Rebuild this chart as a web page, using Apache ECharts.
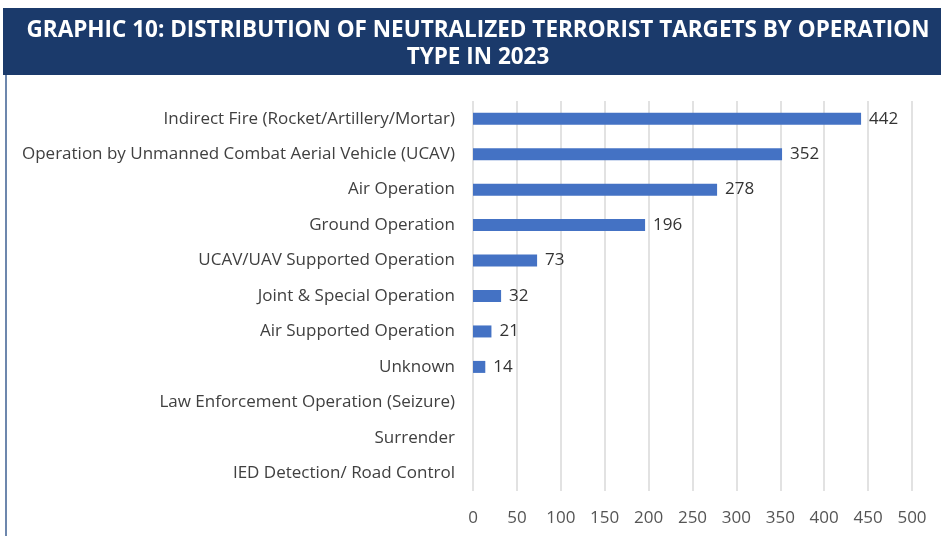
<!DOCTYPE html>
<html>
<head>
<meta charset="utf-8">
<script src="https://cdn.jsdelivr.net/npm/echarts@6/dist/echarts.min.js"></script>
<style>
  html, body { margin: 0; padding: 0; background: #fff; }
  #chart { width: 941px; height: 536px; }
</style>
</head>
<body>
<div id="chart"></div>
<script>
// operation types, top to bottom as in the source graphic
var categories = [
  'Indirect Fire (Rocket/Artillery/Mortar)',
  'Operation by Unmanned Combat Aerial Vehicle (UCAV)',
  'Air Operation',
  'Ground Operation',
  'UCAV/UAV Supported Operation',
  'Joint & Special Operation',
  'Air Supported Operation',
  'Unknown',
  'Law Enforcement Operation (Seizure)',
  'Surrender',
  'IED Detection/ Road Control'
]
var values = [442, 352, 278, 196, 73, 32, 21, 14, 0, 0, 0]

var chart = echarts.init(document.getElementById('chart'))
chart.setOption({
  animation: false,
  graphic: [
    { type: 'rect', shape: { x: 3, y: 8, width: 938, height: 67 }, style: { fill: '#1b3a6b' } },
    { type: 'rect', shape: { x: 5, y: 75, width: 2, height: 461 }, style: { fill: '#6d87ad' } },
    {
      type: 'text', x: 478, y: 17,
      style: {
        text: 'GRAPHIC 10: DISTRIBUTION OF NEUTRALIZED TERRORIST TARGETS BY OPERATION\nTYPE IN 2023',
        fill: '#fff', font: 'bold 22.5px "Open Sans"', align: 'center', lineHeight: 27
      }
    }
  ],
  grid: { left: 473, right: 29, top: 101, bottom: 45 },
  xAxis: {
    type: 'value', min: 0, max: 500, interval: 50,
    axisLine: { show: false }, axisTick: { show: false },
    splitLine: { lineStyle: { color: '#d9d9d9', width: 1.5 } },
    axisLabel: { color: '#555', fontSize: 17, fontFamily: 'Open Sans', margin: 19 }
  },
  yAxis: {
    type: 'category', inverse: true, data: categories,
    axisLine: { show: false }, axisTick: { show: false },
    axisLabel: { color: '#404040', fontSize: 17, fontFamily: 'Open Sans', margin: 18 }
  },
  series: [{
    type: 'bar', data: values, barWidth: 12,
    itemStyle: { color: '#4472c4' },
    label: {
      show: true, position: 'right', distance: 8, color: '#333', fontSize: 17, fontFamily: 'Open Sans',
      formatter: function (p) { return p.value > 0 ? p.value : '' }
    }
  }]
})
</script>
</body>
</html>
